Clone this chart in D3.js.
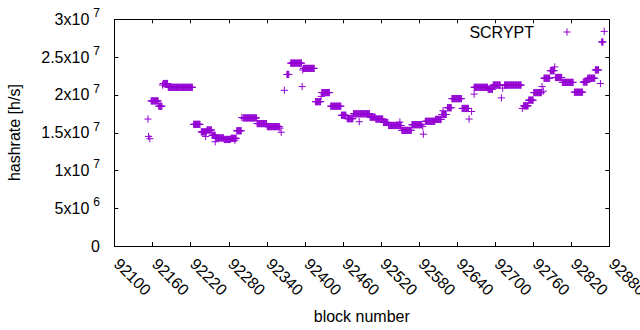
<!DOCTYPE html>
<html>
<head>
<meta charset="utf-8">
<script src="https://cdn.jsdelivr.net/npm/d3@7"></script>
<style>
  body { margin: 0; background: #fff; }
  svg { display: block; }
  text { font-family: "Liberation Sans", Arial, sans-serif; fill: #000; }
</style>
</head>
<body>
<svg id="chart" width="640" height="330"></svg>
<script>
var width = 640;
var height = 330;
var margin = {top: 19.3, right: 30.7, bottom: 84, left: 114.3};
var color = "#9400d3";

// runs of blocks that share the same hashrate (single points have from == to)
var runFrom = [92153, 92154, 92156, 92158, 92170, 92176, 92177, 92185, 92225, 92237,
               92244, 92246, 92254, 92259, 92260, 92273, 92284, 92290, 92293, 92301,
               92303, 92325, 92341, 92361, 92363, 92368, 92372, 92378, 92396, 92397,
               92398, 92417, 92426, 92427, 92441, 92458, 92467, 92477, 92486, 92503,
               92512, 92524, 92532, 92550, 92553, 92569, 92586, 92587, 92590, 92606,
               92616, 92618, 92625, 92632, 92648, 92659, 92663, 92667, 92667, 92689,
               92697, 92710, 92712, 92715, 92743, 92745, 92753, 92761, 92774, 92776,
               92777, 92787, 92794, 92795, 92806, 92825, 92839, 92846, 92858, 92866,
               92868, 92872];
var runTo   = [92153, 92154, 92156, 92169, 92175, 92176, 92184, 92223, 92235, 92245,
               92244, 92253, 92259, 92259, 92272, 92283, 92292, 92290, 92300, 92301,
               92324, 92340, 92360, 92361, 92363, 92368, 92375, 92395, 92396, 92397,
               92415, 92425, 92426, 92439, 92457, 92465, 92476, 92502, 92486, 92511,
               92523, 92531, 92552, 92550, 92568, 92584, 92586, 92587, 92605, 92615,
               92623, 92618, 92631, 92647, 92658, 92659, 92663, 92667, 92688, 92696,
               92708, 92710, 92712, 92741, 92743, 92752, 92760, 92773, 92774, 92776,
               92786, 92793, 92794, 92805, 92823, 92838, 92845, 92857, 92863, 92866,
               92870, 92872];
var runRate = [16.8, 14.5, 14.2, 19.2, 18.5, 21.3, 21.5, 21.0, 16.1, 15.1,
               14.5, 15.35, 14.65, 13.8, 14.3, 14.1, 14.25, 14.0, 15.25, 17.0,
               16.95, 16.2, 15.8, 15.6, 15.05, 20.6, 22.7, 24.2, 21.1, 23.3,
               23.5, 19.1, 19.8, 20.3, 18.5, 17.3, 16.85, 17.5, 16.45, 17.05,
               16.8, 16.35, 15.95, 16.4, 15.3, 16.05, 15.8, 14.8, 16.5, 16.75,
               17.4, 17.9, 18.3, 19.5, 18.2, 16.8, 17.8, 20.1, 21.0, 20.75,
               21.3, 19.6, 20.9, 21.3, 18.2, 18.55, 19.3, 20.3, 21.1, 20.5,
               22.2, 23.2, 23.7, 22.3, 21.65, 20.35, 21.7, 22.2, 23.3, 21.5,
               27.0, 28.4]; // x 10^6 h/s

var xTicks = d3.range(92100, 92881, 60);
var yTicks = [0, 5e6, 1e7, 1.5e7, 2e7, 2.5e7, 3e7];
var yTickMant = ["0", "5x10", "1x10", "1.5x10", "2x10", "2.5x10", "3x10"];
var yTickExp = ["", "6", "7", "7", "7", "7", "7"];

// one point per block
var points = [];
runFrom.forEach(function(from, i) {
    for (var b = from; b <= runTo[i]; b++) {
        points.push({block: b, rate: runRate[i] * 1e6});
    }
});

var svg = d3.select("#chart");
var x = d3.scaleLinear().domain([92100, 92880]).range([margin.left, width - margin.right]);
var y = d3.scaleLinear().domain([0, 3e7]).range([height - margin.bottom, margin.top]);

var x0 = x.range()[0], x1 = x.range()[1];
var y0 = y.range()[0], y1 = y.range()[1];

function plus(sel, size) {
    sel.append("line").attr("x1", -size).attr("x2", size).attr("y1", 0).attr("y2", 0);
    sel.append("line").attr("x1", 0).attr("x2", 0).attr("y1", -size).attr("y2", size);
}

// ticks (inward, mirrored)
var tickLen = 4;
var ticks = svg.append("g").attr("stroke", "#000").attr("stroke-width", 1);
xTicks.forEach(function(t) {
    var px = Math.round(x(t)) + 0.5;
    ticks.append("line").attr("x1", px).attr("x2", px).attr("y1", y0).attr("y2", y0 - tickLen);
    ticks.append("line").attr("x1", px).attr("x2", px).attr("y1", y1).attr("y2", y1 + tickLen);
});
yTicks.forEach(function(t) {
    var py = Math.round(y(t)) + 0.5;
    ticks.append("line").attr("x1", x0).attr("x2", x0 + tickLen).attr("y1", py).attr("y2", py);
    ticks.append("line").attr("x1", x1).attr("x2", x1 - tickLen).attr("y1", py).attr("y2", py);
});

// frame
svg.append("rect")
    .attr("x", Math.round(x0) + 0.5).attr("y", Math.round(y1) + 0.5)
    .attr("width", Math.round(x1) - Math.round(x0)).attr("height", Math.round(y0) - Math.round(y1))
    .attr("fill", "none").attr("stroke", "#000").attr("stroke-width", 1);

// y tick labels with superscript exponent
yTicks.forEach(function(t, i) {
    var lbl = svg.append("text")
        .attr("x", 100)
        .attr("y", y(t) + 5.5)
        .attr("text-anchor", "end")
        .style("font-size", "16px");
    lbl.append("tspan").text(yTickMant[i]);
    if (yTickExp[i]) {
        lbl.append("tspan").attr("dx", 4).attr("dy", -7.5).style("font-size", "12px").text(yTickExp[i]);
    }
});

// x tick labels, rotated
xTicks.forEach(function(t) {
    svg.append("text")
        .attr("transform", "translate(" + (x(t) + 2.5) + "," + 261 + ") rotate(45)")
        .attr("dy", "0.35em")
        .attr("text-anchor", "start")
        .style("font-size", "16px")
        .text(t);
});

// axis titles
svg.append("text")
    .attr("x", (x0 + x1) / 2).attr("y", 321.5)
    .attr("text-anchor", "middle").style("font-size", "16px")
    .text("block number");
svg.append("text")
    .attr("transform", "translate(20," + ((y0 + y1) / 2) + ") rotate(-90)")
    .attr("text-anchor", "middle").style("font-size", "16px")
    .text("hashrate [h/s]");

// points
var dots = svg.append("g").attr("stroke", color).attr("stroke-width", 1).attr("fill", "none");
dots.selectAll("g.pt").data(points).enter()
    .append("g").attr("class", "pt")
    .attr("transform", function(d) { return "translate(" + x(d.block) + "," + y(d.rate) + ")"; })
    .each(function() { plus(d3.select(this), 3.6); });

// legend
svg.append("text")
    .attr("x", 534).attr("y", 37.5)
    .attr("text-anchor", "end").style("font-size", "16px")
    .text("SCRYPT");
var key = svg.append("g").attr("stroke", color).attr("stroke-width", 1)
    .attr("transform", "translate(567,32)");
plus(key, 3.6);
</script>
</body>
</html>
